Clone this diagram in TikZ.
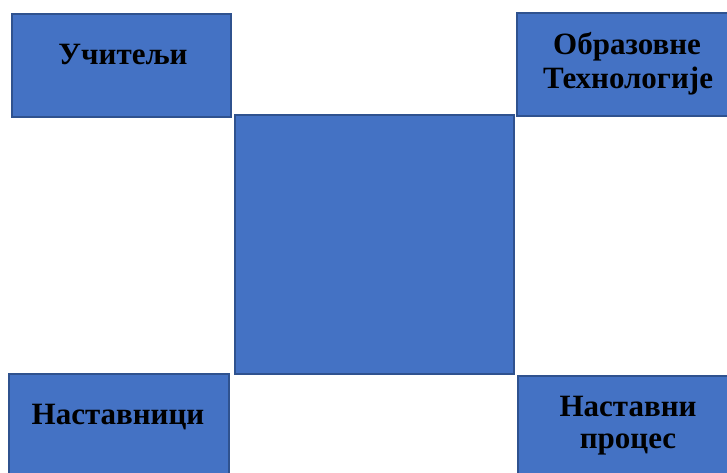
\documentclass[tikz,border=0pt]{standalone}
\usepackage{fontspec}
\setmainfont{Liberation Serif}
\definecolor{boxfill}{HTML}{4472C4}
\definecolor{boxline}{HTML}{2F528F}
\begin{document}
\begin{tikzpicture}[x=1pt,y=-1pt,
  bluebox/.style={draw=boxline, fill=boxfill, line width=1.2pt},
  lbl/.style={anchor=base, inner sep=0pt, font=\fontsize{31}{34}\selectfont\bfseries, text=black}]
\path[clip] (0,0) rectangle (727,472);
\fill[white] (0,0) rectangle (727,472);
% boxes
\draw[bluebox] (12,14) rectangle (231,117);
\draw[bluebox] (517,13) rectangle (730,116);
\draw[bluebox] (235,115) rectangle (514,374);
\draw[bluebox] (9,374) rectangle (229,480);
\draw[bluebox] (518,376) rectangle (730,480);
% labels
\node[lbl] (t1) at (123,64) {Учитељи};
\node[lbl] (t2a) at (627,54) {Образовне};
\node[lbl] (t2b) at (628,88) {Технологије};
\node[lbl] (t3) at (118,424) {Наставници};
\node[lbl] (t4a) at (628,416) {Наставни};
\node[lbl] (t4b) at (628,448) {процес};
\end{tikzpicture}
\end{document}
